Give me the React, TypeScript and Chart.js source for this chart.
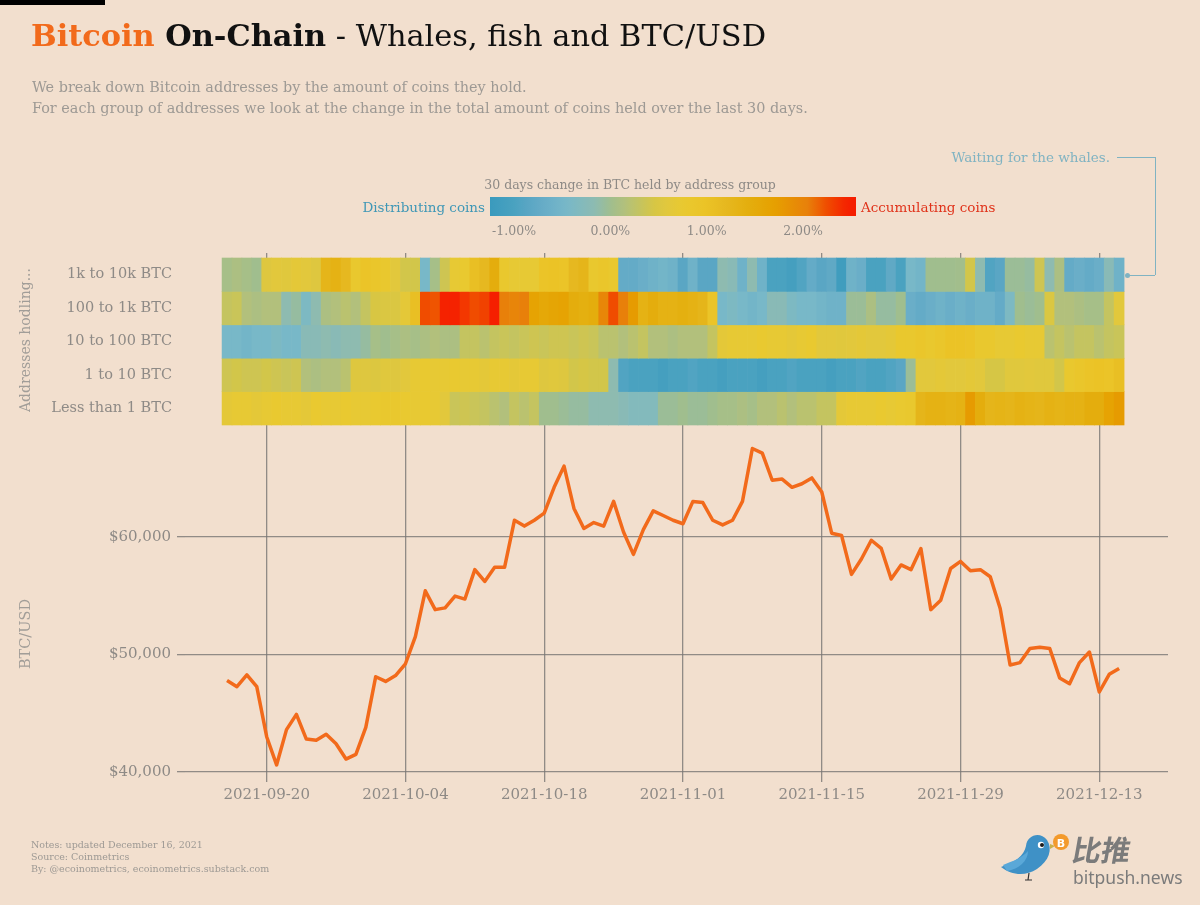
import React, { useEffect, useRef } from "react";
import { Chart, registerables } from "chart.js";

Chart.register(...registerables);

// ---------------- DATA ----------------
const dates = [
  "2021-09-16","2021-09-17","2021-09-18","2021-09-19","2021-09-20","2021-09-21","2021-09-22","2021-09-23","2021-09-24","2021-09-25",
  "2021-09-26","2021-09-27","2021-09-28","2021-09-29","2021-09-30","2021-10-01","2021-10-02","2021-10-03","2021-10-04","2021-10-05",
  "2021-10-06","2021-10-07","2021-10-08","2021-10-09","2021-10-10","2021-10-11","2021-10-12","2021-10-13","2021-10-14","2021-10-15",
  "2021-10-16","2021-10-17","2021-10-18","2021-10-19","2021-10-20","2021-10-21","2021-10-22","2021-10-23","2021-10-24","2021-10-25",
  "2021-10-26","2021-10-27","2021-10-28","2021-10-29","2021-10-30","2021-10-31","2021-11-01","2021-11-02","2021-11-03","2021-11-04",
  "2021-11-05","2021-11-06","2021-11-07","2021-11-08","2021-11-09","2021-11-10","2021-11-11","2021-11-12","2021-11-13","2021-11-14",
  "2021-11-15","2021-11-16","2021-11-17","2021-11-18","2021-11-19","2021-11-20","2021-11-21","2021-11-22","2021-11-23","2021-11-24",
  "2021-11-25","2021-11-26","2021-11-27","2021-11-28","2021-11-29","2021-11-30","2021-12-01","2021-12-02","2021-12-03","2021-12-04",
  "2021-12-05","2021-12-06","2021-12-07","2021-12-08","2021-12-09","2021-12-10","2021-12-11","2021-12-12","2021-12-13","2021-12-14",
  "2021-12-15"
];

const btcUsd = [
  47780, 47250, 48250, 47250, 43000, 40600, 43600, 44900, 42800, 42700,
  43200, 42400, 41100, 41500, 43800, 48100, 47700, 48200, 49200, 51500,
  55400, 53800, 53950, 54950, 54700, 57200, 56200, 57400, 57400, 61400,
  60900, 61400, 62000, 64200, 66000, 62400, 60700, 61200, 60900, 63000,
  60400, 58500, 60600, 62200, 61800, 61400, 61100, 63000, 62900, 61400,
  61000, 61400, 63000, 67500, 67100, 64800, 64900, 64200, 64500, 65000,
  63800, 60300, 60100, 56800, 58100, 59700, 59000, 56400, 57600, 57200,
  59000, 53800, 54600, 57300, 57900, 57100, 57200, 56600, 53900, 49100,
  49300, 50500, 50600, 50500, 48000, 47500, 49300, 50200, 46800, 48300,
  48800
];

const rowLabels = ["1k to 10k BTC", "100 to 1k BTC", "10 to 100 BTC", "1 to 10 BTC", "Less than 1 BTC"];

// 30 day change in BTC held (%), per address group
const chg1kTo10k = [
  0.05, 0.1, 0.05, 0.0, 0.55, 0.6, 0.58, 0.65, 0.6, 0.55,
  1.28, 1.35, 1.2, 0.8, 0.95, 0.88, 0.8, 0.6, 0.42, 0.42,
  -0.45, 0.05, 0.38, 0.7, 0.75, 1.08, 1.2, 1.45, 0.8, 0.7,
  0.7, 0.7, 0.95, 1.0, 0.95, 1.2, 1.28, 0.8, 0.88, 0.8,
  -0.72, -0.72, -0.65, -0.58, -0.52, -0.58, -0.85, -0.58, -0.85, -0.85,
  -0.15, -0.22, -0.58, -0.15, -0.58, -1.0, -1.0, -1.08, -0.93, -0.72,
  -0.85, -0.78, -1.15, -0.58, -0.65, -1.0, -1.0, -0.78, -1.0, -0.45,
  -0.52, 0.0, 0.0, 0.0, 0.02, 0.42, -0.15, -0.93, -0.85, -0.04,
  -0.04, -0.08, 0.38, -0.15, 0.1, -0.72, -0.65, -0.72, -0.65, -0.22,
  -0.58
];
const chg100To1k = [
  0.3, 0.34, 0.15, 0.1, 0.15, 0.15, -0.15, -0.08, -0.38, -0.15,
  0.1, 0.15, 0.22, 0.15, 0.3, 0.48, 0.5, 0.5, 0.65, 1.08,
  2.25, 2.22, 2.45, 2.45, 2.35, 2.25, 2.3, 2.5, 2.05, 2.0,
  2.05, 1.65, 1.55, 1.6, 1.65, 1.45, 1.4, 1.45, 1.98, 2.25,
  2.05, 1.75, 1.35, 1.45, 1.35, 1.35, 1.4, 1.35, 1.28, 0.95,
  -0.45, -0.38, -0.45, -0.52, -0.45, -0.22, -0.22, -0.38, -0.45, -0.45,
  -0.52, -0.58, -0.58, -0.04, -0.04, 0.1, -0.08, -0.08, 0.0, -0.65,
  -0.72, -0.65, -0.58, -0.65, -0.58, -0.65, -0.58, -0.58, -0.72, -0.38,
  0.0, -0.04, 0.0, 0.5, 0.15, 0.15, 0.1, 0.05, 0.05, 0.3,
  0.6
];
const chg10To100 = [
  -0.45, -0.45, -0.52, -0.45, -0.45, -0.38, -0.45, -0.45, -0.22, -0.22,
  -0.15, -0.22, -0.15, -0.15, -0.08, 0.05, 0.0, 0.05, 0.1, 0.05,
  0.1, 0.15, 0.1, 0.1, 0.3, 0.3, 0.22, 0.3, 0.34, 0.3,
  0.34, 0.38, 0.34, 0.38, 0.38, 0.34, 0.38, 0.34, 0.22, 0.22,
  0.15, 0.22, 0.3, 0.15, 0.15, 0.1, 0.15, 0.15, 0.15, 0.3,
  0.65, 0.7, 0.7, 0.7, 0.75, 0.7, 0.7, 0.65, 0.7, 0.75,
  0.6, 0.6, 0.58, 0.6, 0.65, 0.6, 0.6, 0.65, 0.8, 0.8,
  0.88, 0.8, 0.88, 1.0, 1.0, 0.95, 0.8, 0.8, 0.7, 0.7,
  0.75, 0.7, 0.7, 0.22, 0.3, 0.22, 0.3, 0.3, 0.22, 0.3,
  0.34
];
const chg1To10 = [
  0.38, 0.42, 0.38, 0.38, 0.42, 0.38, 0.34, 0.38, 0.15, 0.1,
  0.15, 0.15, 0.22, 0.55, 0.55, 0.53, 0.58, 0.55, 0.6, 0.7,
  0.75, 0.7, 0.7, 0.75, 0.7, 0.7, 0.65, 0.7, 0.7, 0.65,
  0.7, 0.7, 0.55, 0.58, 0.55, 0.42, 0.45, 0.42, 0.42, -0.15,
  -0.93, -1.0, -1.0, -1.0, -1.08, -1.0, -1.0, -0.93, -1.0, -1.0,
  -1.08, -1.0, -1.0, -1.0, -1.08, -1.0, -1.0, -0.93, -1.0, -1.0,
  -1.0, -1.08, -1.0, -1.0, -0.93, -1.0, -1.0, -0.93, -0.85, -0.04,
  0.6, 0.6, 0.65, 0.6, 0.6, 0.65, 0.6, 0.45, 0.45, 0.58,
  0.58, 0.6, 0.58, 0.58, 0.42, 0.8, 0.88, 0.95, 1.0, 0.95,
  1.08
];
const chgLess1 = [
  0.65, 0.7, 0.7, 0.65, 0.7, 0.75, 0.7, 0.7, 0.65, 0.75,
  0.7, 0.7, 0.75, 0.7, 0.7, 0.75, 0.8, 0.8, 0.75, 0.7,
  0.75, 0.7, 0.6, 0.34, 0.38, 0.34, 0.3, 0.22, 0.15, 0.3,
  0.22, 0.3, 0.0, 0.0, -0.04, -0.08, -0.08, -0.15, -0.15, -0.15,
  -0.22, -0.3, -0.3, -0.3, -0.04, -0.04, 0.0, -0.04, -0.04, 0.0,
  0.05, 0.05, 0.1, 0.05, 0.15, 0.15, 0.22, 0.15, 0.22, 0.22,
  0.3, 0.3, 0.65, 0.7, 0.7, 0.7, 0.75, 0.7, 0.75, 0.8,
  1.28, 1.35, 1.35, 1.31, 1.35, 1.75, 1.45, 1.28, 1.31, 1.28,
  1.35, 1.31, 1.28, 1.35, 1.31, 1.35, 1.35, 1.45, 1.45, 1.65,
  1.75
];

const xTickLabels = ["2021-09-20", "2021-10-04", "2021-10-18", "2021-11-01", "2021-11-15", "2021-11-29", "2021-12-13"];
const priceTicks = [40000, 50000, 60000];
const legendTicks = [-1, 0, 1, 2];

// ---------------- STYLE ----------------
const BG = "#f2dfce";
const SERIF = '"DejaVu Serif", "Liberation Serif", serif';
const GREY = "#8e8a86";
const GRID = "rgba(120,118,116,0.8)";

const COLOR_STOPS: [number, string][] = [
  [-1.25, "#3a9abd"],
  [-1.0, "#4aa2c0"],
  [-0.85, "#5aa6c4"],
  [-0.65, "#6aaec8"],
  [-0.45, "#78b8c8"],
  [-0.15, "#8ebbb0"],
  [0.0, "#a0be8e"],
  [0.15, "#b2c07c"],
  [0.3, "#c4c460"],
  [0.45, "#d6c645"],
  [0.6, "#e2c83c"],
  [0.75, "#e9c930"],
  [1.0, "#ebc326"],
  [1.2, "#e6b820"],
  [1.4, "#e4b010"],
  [1.7, "#e6a000"],
  [2.05, "#e8800a"],
  [2.25, "#f04c00"],
  [2.45, "#f52200"],
  [2.6, "#f51a00"],
];
const LEGEND_MIN = -1.25;
const LEGEND_MAX = 2.55;

const hexRgb = (h: string) => [1, 3, 5].map((k) => parseInt(h.slice(k, k + 2), 16));
function colorFor(v: number): string {
  const s = COLOR_STOPS;
  if (v <= s[0][0]) return s[0][1];
  for (let k = 1; k < s.length; k++) {
    if (v <= s[k][0]) {
      const [v0, c0] = s[k - 1];
      const [v1, c1] = s[k];
      const t = (v - v0) / (v1 - v0);
      const a = hexRgb(c0);
      const b = hexRgb(c1);
      return `rgb(${a.map((x, j) => Math.round(x + (b[j] - x) * t)).join(",")})`;
    }
  }
  return s[s.length - 1][1];
}

function legendGradient(): string {
  const parts: string[] = [];
  const n = 60;
  for (let k = 0; k <= n; k++) {
    const v = LEGEND_MIN + ((LEGEND_MAX - LEGEND_MIN) * k) / n;
    parts.push(`${colorFor(v)} ${((k / n) * 100).toFixed(2)}%`);
  }
  return `linear-gradient(to right, ${parts.join(", ")})`;
}

const heatRows = [chg1kTo10k, chg100To1k, chg10To100, chg1To10, chgLess1];

export default function App() {
  const ref = useRef<HTMLCanvasElement>(null);

  useEffect(() => {
    if (!ref.current) return;
    const heatDatasets = heatRows.map((row, r) => ({
      type: "bar" as const,
      label: rowLabels[r],
      data: row.map((_v, i) => ({ x: i, y: [r, r + 1] })),
      backgroundColor: row.map(colorFor),
      borderWidth: 0,
      barPercentage: 1,
      categoryPercentage: 1,
      grouped: false,
      xAxisID: "x",
      yAxisID: "yHeat",
      order: 2,
    }));
    const lineDataset = {
      type: "line" as const,
      label: "BTC/USD",
      data: btcUsd.map((v, i) => ({ x: i, y: v })),
      borderColor: "#f26a1b",
      borderWidth: 3.5,
      pointRadius: 0,
      tension: 0,
      borderJoinStyle: "round" as const,
      xAxisID: "x",
      yAxisID: "y",
      order: 1,
    };

    const chart = new Chart(ref.current, {
      type: "line",
      data: { datasets: [...heatDatasets, lineDataset] as any },
      options: {
        animation: false,
        responsive: false,
        maintainAspectRatio: false,
        events: [],
        layout: { padding: { left: 0, top: 253, right: 32, bottom: 100 } },
        plugins: {
          legend: { display: false },
          tooltip: { enabled: false },
          title: { display: false },
        },
        scales: {
          x: {
            type: "linear",
            position: "bottom",
            offset: false,
            min: -4.24,
            max: 94.93,
            afterBuildTicks: (s: any) => {
              s.ticks = xTickLabels.map((l) => ({ value: dates.indexOf(l) }));
            },
            afterFit: (s: any) => {
              s.height = 33;
            },
            ticks: {
              autoSkip: false,
              maxRotation: 0,
              padding: 4,
              color: GREY,
              font: { family: SERIF, size: 15 },
              callback: (v: any) => dates[Number(v)],
            },
            grid: { offset: false, color: GRID, lineWidth: 1.3, tickLength: 10, drawTicks: true },
            border: { display: false },
          },
          yHeat: {
            type: "linear",
            position: "left",
            stack: "panels",
            stackWeight: 179,
            weight: 1,
            reverse: true,
            min: -0.15,
            max: 5.21,
            afterBuildTicks: (s: any) => {
              s.ticks = rowLabels.map((_l, i) => ({ value: i + 0.5 }));
            },
            afterFit: (s: any) => {
              s.width = 185;
            },
            ticks: {
              autoSkip: false,
              padding: 13,
              color: GREY,
              font: { family: SERIF, size: 14.5 },
              callback: (_v: any, i: number) => rowLabels[i],
            },
            grid: { display: false, drawTicks: false },
            border: { display: false },
          },
          y: {
            type: "linear",
            position: "left",
            stack: "panels",
            stackWeight: 340,
            weight: 0,
            min: 40000,
            max: 68900,
            afterBuildTicks: (s: any) => {
              s.ticks = priceTicks.map((v) => ({ value: v }));
            },
            afterFit: (s: any) => {
              s.width = 185;
            },
            ticks: {
              autoSkip: false,
              padding: 6,
              color: GREY,
              font: { family: SERIF, size: 15 },
              callback: (v: any) => "$" + Number(v).toLocaleString("en-US"),
            },
            grid: { color: GRID, lineWidth: 1.3, tickLength: 8, drawTicks: true },
            border: { display: false },
          },
        },
      } as any,
    });
    return () => chart.destroy();
  }, []);

  const legendX = (t: number) => 490 + ((t - LEGEND_MIN) / (LEGEND_MAX - LEGEND_MIN)) * 366;
  const abs = (s: React.CSSProperties): React.CSSProperties => ({ position: "absolute", whiteSpace: "nowrap", ...s });
  const WHALE = "#80b3c2";

  return (
    <div style={{ position: "absolute", left: 0, top: 0, width: 1200, height: 905, background: BG, overflow: "hidden", fontFamily: SERIF }}>
      <canvas ref={ref} width={1200} height={905} style={{ position: "absolute", left: 0, top: 0, width: 1200, height: 905 }} />

      <div style={abs({ left: 0, top: 0, width: 105, height: 5, background: "#000" })} />

      <div style={abs({ left: 31, top: 17, fontSize: 30.4, lineHeight: "36px", color: "#111" })}>
        <span style={{ color: "#f26a1b", fontWeight: "bold" }}>Bitcoin</span>
        <span style={{ fontWeight: "bold" }}> On-Chain</span>
        <span> - Whales, fish and BTC/USD</span>
      </div>

      <div style={abs({ left: 32, top: 77, fontSize: 14.4, lineHeight: "21px", color: "#9d9994" })}>
        We break down Bitcoin addresses by the amount of coins they hold.
        <br />
        For each group of addresses we look at the change in the total amount of coins held over the last 30 days.
      </div>

      {/* annotation */}
      <div style={abs({ right: 1200 - 1110, top: 149, fontSize: 13.5, lineHeight: "16px", color: WHALE })}>Waiting for the whales.</div>
      <div style={abs({ left: 1117, top: 157, width: 38, height: 0, borderTop: `1px solid ${WHALE}` })} />
      <div style={abs({ left: 1155, top: 157, width: 0, height: 118, borderLeft: `1px solid ${WHALE}` })} />
      <div style={abs({ left: 1128, top: 275, width: 27, height: 0, borderTop: `1px solid ${WHALE}` })} />
      <div style={abs({ left: 1125, top: 273, width: 5, height: 5, borderRadius: 3, background: WHALE })} />

      {/* colour legend */}
      <div style={abs({ left: 630, top: 177, transform: "translateX(-50%)", fontSize: 12.5, lineHeight: "15px", color: GREY })}>
        30 days change in BTC held by address group
      </div>
      <div style={abs({ right: 1200 - 485, top: 199, fontSize: 13.5, lineHeight: "16px", color: "#3f97b6" })}>Distributing coins</div>
      <div style={abs({ left: 490, top: 197, width: 366, height: 19, background: legendGradient() })} />
      <div style={abs({ left: 861, top: 199, fontSize: 13.5, lineHeight: "16px", color: "#e0321a" })}>Accumulating coins</div>
      {legendTicks.map((t) => (
        <div key={t} style={abs({ left: legendX(t), top: 223, transform: "translateX(-50%)", fontSize: 12.5, lineHeight: "15px", color: GREY })}>
          {t.toFixed(2) + "%"}
        </div>
      ))}

      {/* side titles */}
      <div style={abs({ left: 25, top: 340, transform: "translate(-50%,-50%) rotate(-90deg)", fontSize: 14, lineHeight: "16px", color: "#a19d98" })}>
        Addresses hodling...
      </div>
      <div style={abs({ left: 25, top: 634, transform: "translate(-50%,-50%) rotate(-90deg)", fontSize: 14.5, lineHeight: "16px", color: "#a19d98" })}>
        BTC/USD
      </div>

      {/* footer */}
      <div style={abs({ left: 31, top: 839, fontSize: 9.5, lineHeight: "12px", color: "#9d9994" })}>
        Notes: updated December 16, 2021
        <br />
        Source: Coinmetrics
        <br />
        By: @ecoinometrics, ecoinometrics.substack.com
      </div>

      {/* logo */}
      <svg style={{ position: "absolute", left: 995, top: 825 }} width={80} height={65} viewBox="0 0 80 65">
        <path d="M6 42 C 16 50, 30 52, 42 44 C 54 36, 58 24, 52 15 C 45 6, 32 10, 31 21 C 29 31, 20 37, 6 42 Z" fill="#3f91c6" />
        <path d="M8 40 C 18 36, 27 33, 33 26 C 33 36, 24 44, 12 46 Z" fill="#5aa8d8" />
        <circle cx={46} cy={20} r={3.2} fill="#fff" />
        <circle cx={47} cy={20} r={2} fill="#1a1a1a" />
        <path d="M55 19 L 60 21 L 55 24 Z" fill="#c9b04a" />
        <path d="M34 48 L 33 55 M 30 55 L 37 55" stroke="#333" strokeWidth={1.2} fill="none" />
        <circle cx={66} cy={17} r={8} fill="#f39a2c" />
        <text x={66} y={21.5} textAnchor="middle" fontSize={11} fontWeight="bold" fill="#fff" fontFamily="DejaVu Sans">B</text>
      </svg>
      <div style={abs({ left: 1073, top: 831, fontSize: 29, lineHeight: "34px", color: "#7b7b7b", fontWeight: "bold", fontFamily: '"Noto Sans CJK SC", sans-serif', transform: "skewX(-10deg)" })}>
        比推
      </div>
      <div style={abs({ left: 1073, top: 866, fontSize: 17.5, lineHeight: "22px", color: "#7b7b7b", fontFamily: '"Noto Sans", sans-serif' })}>
        bitpush.news
      </div>
    </div>
  );
}
